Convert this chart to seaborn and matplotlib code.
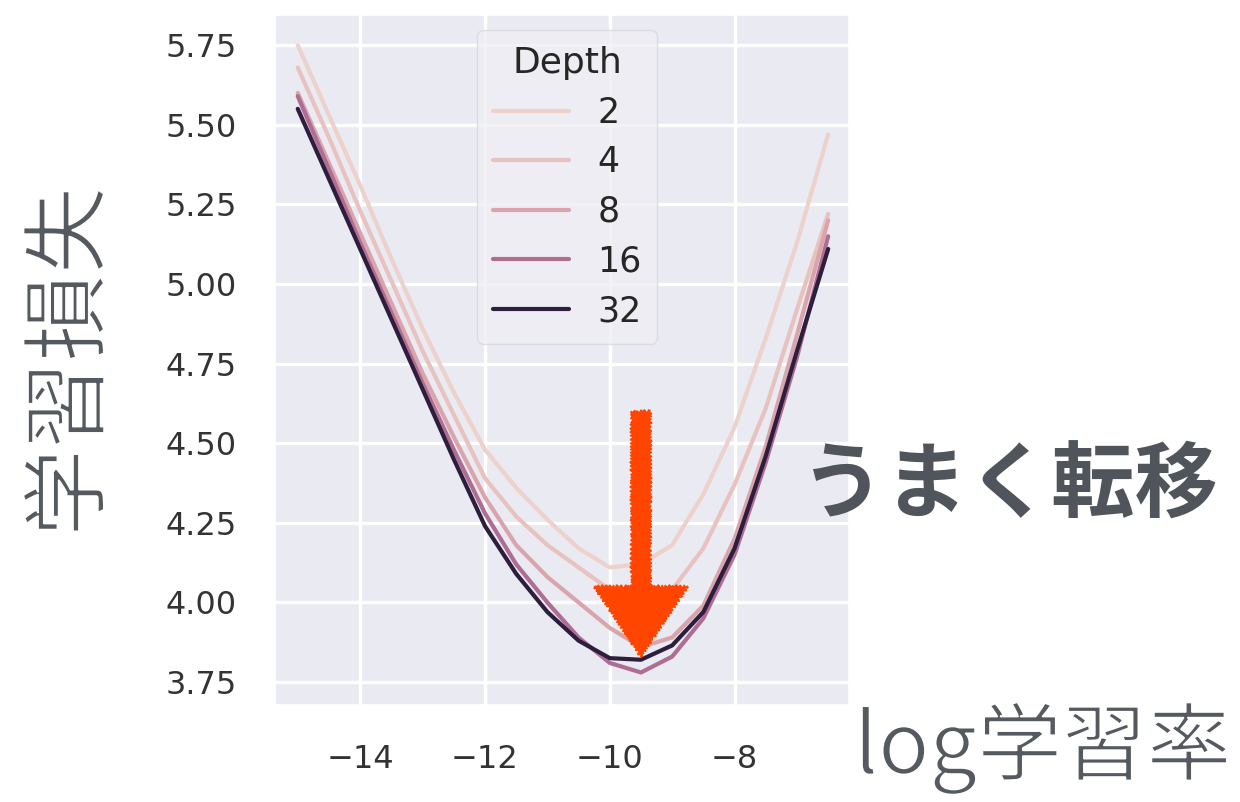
import numpy as np
import pandas as pd
import matplotlib
matplotlib.use("Agg")
import matplotlib.pyplot as plt
import matplotlib.patheffects as pe
import seaborn as sns

# log learning rate grid and training loss per depth
log_lr = [-15.0, -14.5, -14.0, -13.5, -13.0, -12.5, -12.0, -11.5, -11.0,
          -10.5, -10.0, -9.5, -9.0, -8.5, -8.0, -7.5, -7.0, -6.5]
depths = [2, 4, 8, 16, 32]
loss_d2 = [5.75, 5.53, 5.31, 5.08, 4.86, 4.66, 4.48, 4.36, 4.26,
           4.17, 4.11, 4.12, 4.18, 4.34, 4.55, 4.83, 5.13, 5.47]
loss_d4 = [5.68, 5.46, 5.23, 5.01, 4.79, 4.59, 4.39, 4.27, 4.18,
           4.11, 4.04, 4.00, 4.04, 4.17, 4.37, 4.61, 4.92, 5.22]
loss_d8 = [5.60, 5.38, 5.16, 4.94, 4.72, 4.52, 4.33, 4.18, 4.08,
           4.00, 3.92, 3.86, 3.89, 3.99, 4.20, 4.49, 4.84, 5.20]
loss_d16 = [5.59, 5.36, 5.13, 4.91, 4.69, 4.48, 4.28, 4.12, 4.00,
            3.89, 3.81, 3.78, 3.83, 3.95, 4.15, 4.44, 4.77, 5.15]
loss_d32 = [5.55, 5.33, 5.11, 4.89, 4.67, 4.45, 4.24, 4.09, 3.97,
            3.88, 3.825, 3.82, 3.865, 3.97, 4.17, 4.46, 4.79, 5.11]

losses = [loss_d2, loss_d4, loss_d8, loss_d16, loss_d32]
df = pd.concat([pd.DataFrame({"log_lr": log_lr, "loss": l, "Depth": d})
                for d, l in zip(depths, losses)], ignore_index=True)

sns.set_theme(style="darkgrid")
plt.rcParams["font.family"] = ["DejaVu Sans"]

fig = plt.figure(figsize=(12.4, 8.02), dpi=100)
ax = fig.add_axes([0.222, 0.121, 0.463, 0.860])

sns.lineplot(data=df, x="log_lr", y="loss", hue="Depth", legend="full",
             linewidth=3, ax=ax)

ax.set_xlim(-15.36, -6.16)
ax.set_ylim(3.678, 5.844)
ax.set_xticks([-14, -12, -10, -8])
ax.set_yticks([3.75, 4.0, 4.25, 4.5, 4.75, 5.0, 5.25, 5.5, 5.75])
ax.set_yticklabels(["3.75", "4.00", "4.25", "4.50", "4.75", "5.00",
                    "5.25", "5.50", "5.75"])
ax.tick_params(axis="both", labelsize=23, pad=22, colors="#333333")
ax.grid(color="white", linewidth=2.4)
ax.set_xlabel("")
ax.set_ylabel("")

leg = ax.legend(title="Depth", loc="upper left",
                bbox_to_anchor=(0.352, 0.978), borderaxespad=0,
                fontsize=25, title_fontsize=26, handlelength=2.2,
                handletextpad=0.8, labelspacing=0.45, frameon=True,
                borderpad=0.45)
leg.get_frame().set_facecolor("#EEEEF4")
leg.get_frame().set_edgecolor("#D8D8DE")
for line in leg.get_lines():
    line.set_linewidth(3)

# hand-drawn style arrow
arr = ax.arrow(-9.5, 4.60, 0, -0.77, width=0.30, head_width=1.49,
               head_length=0.22, length_includes_head=True,
               color="#FF4500", zorder=5)
arr.set_sketch_params(scale=1.5, length=4, randomness=2)

jp = ["Noto Sans CJK JP", "DejaVu Sans"]
# thin out the regular weight a little to look like a light face
thin = [pe.Normal(), pe.Stroke(linewidth=1.4, foreground="white")]
fig.text(0.058, 0.549, "学習損失", rotation=90, fontsize=63,
         family=jp, color="#555A60", ha="center", va="center",
         path_effects=thin)
fig.text(0.993, 0.067, "log学習率", fontsize=61, family=jp,
         color="#555A60", ha="right", va="center", path_effects=thin)
fig.text(0.646, 0.392, "うまく転移", fontsize=60, family=jp,
         weight="bold", color="#4F555B", ha="left", va="center")

fig.savefig("out.png", dpi=100)
